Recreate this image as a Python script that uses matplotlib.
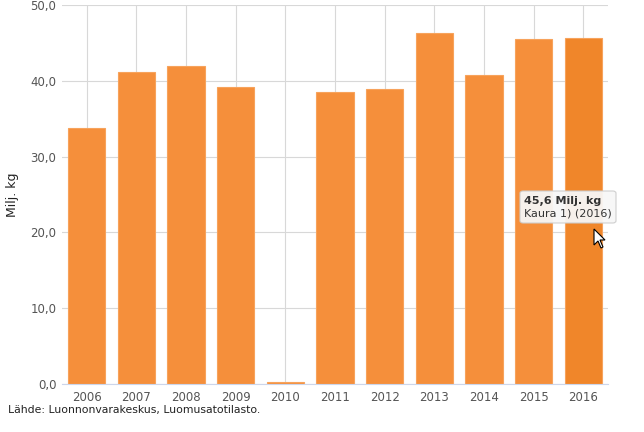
import matplotlib
matplotlib.use("Agg")
import matplotlib.pyplot as plt
from matplotlib.patches import FancyBboxPatch, Polygon
import numpy as np

years = ["2006", "2007", "2008", "2009", "2010", "2011", "2012", "2013", "2014", "2015", "2016"]
values = [33.8, 41.2, 42.0, 39.2, 0.3, 38.5, 38.9, 46.3, 40.8, 45.5, 45.6]
yticks = [0, 10, 20, 30, 40, 50]

plt.rcParams["font.family"] = ["DejaVu Sans"]

W, H = 644, 432
fig = plt.figure(figsize=(W / 100, H / 100), dpi=100)
ax = fig.add_axes([62 / W, 1 - 384 / H, 546 / W, 379 / H])

x = np.arange(len(years))
colors = ["#f58f3b"] * len(years)
colors[-1] = "#f0862a"  # hovered bar
ax.bar(x, values, width=0.75, color=colors, edgecolor="#f7a35c", linewidth=0.8, zorder=2)

ax.set_xlim(-0.5, len(years) - 0.5)
ax.set_ylim(0, 50)
ax.set_xticks(x)
ax.set_xticklabels(years)
ax.set_yticks(yticks)
ax.set_yticklabels([f"{v:.1f}".replace(".", ",") for v in yticks])
ax.tick_params(axis="both", length=0, labelsize=8.5, colors="#555555", pad=5)
ax.tick_params(axis="y", pad=4)

ax.grid(True, color="#d8d8d8", linewidth=0.8, zorder=0)
for s in ["top", "right", "left"]:
    ax.spines[s].set_visible(False)
ax.spines["bottom"].set_color("#ccd6eb")

ax.set_ylabel("Milj. kg", fontsize=9, color="#222222", labelpad=8)

fig.text(8 / W, 1 - 410 / H, "Lähde: Luonnonvarakeskus, Luomusatotilasto.",
         fontsize=7.8, color="#222222", va="center", ha="left")

# tooltip for the hovered bar
def fx(px):
    return px / W


def fy(py):
    return 1 - py / H


box = FancyBboxPatch((fx(520), fy(223)), 96 / W, 32 / H,
                     boxstyle="round,pad=0,rounding_size=0.005",
                     transform=fig.transFigure, facecolor="#f7f7f7", alpha=0.95,
                     edgecolor="#cccccc", linewidth=0.8, zorder=5)
fig.patches.append(box)
label = f"{values[-1]:.1f}".replace(".", ",") + " Milj. kg"
fig.text(fx(524), fy(201), label, fontsize=8, fontweight="bold", color="#333333",
         va="center", ha="left", zorder=7)
fig.text(fx(524), fy(214), "Kaura 1) (2016)", fontsize=8, color="#333333",
         va="center", ha="left", zorder=7)

# mouse pointer
cursor = [(0, 0), (0, 16), (4, 12), (7, 19), (9, 18), (6, 11), (11, 11)]
fig.patches.append(Polygon([(fx(594 + cx), fy(229 + cy)) for cx, cy in cursor],
                           closed=True, transform=fig.transFigure,
                           facecolor="white", edgecolor="black", linewidth=0.8, zorder=8))

fig.savefig("out.png", dpi=100)
